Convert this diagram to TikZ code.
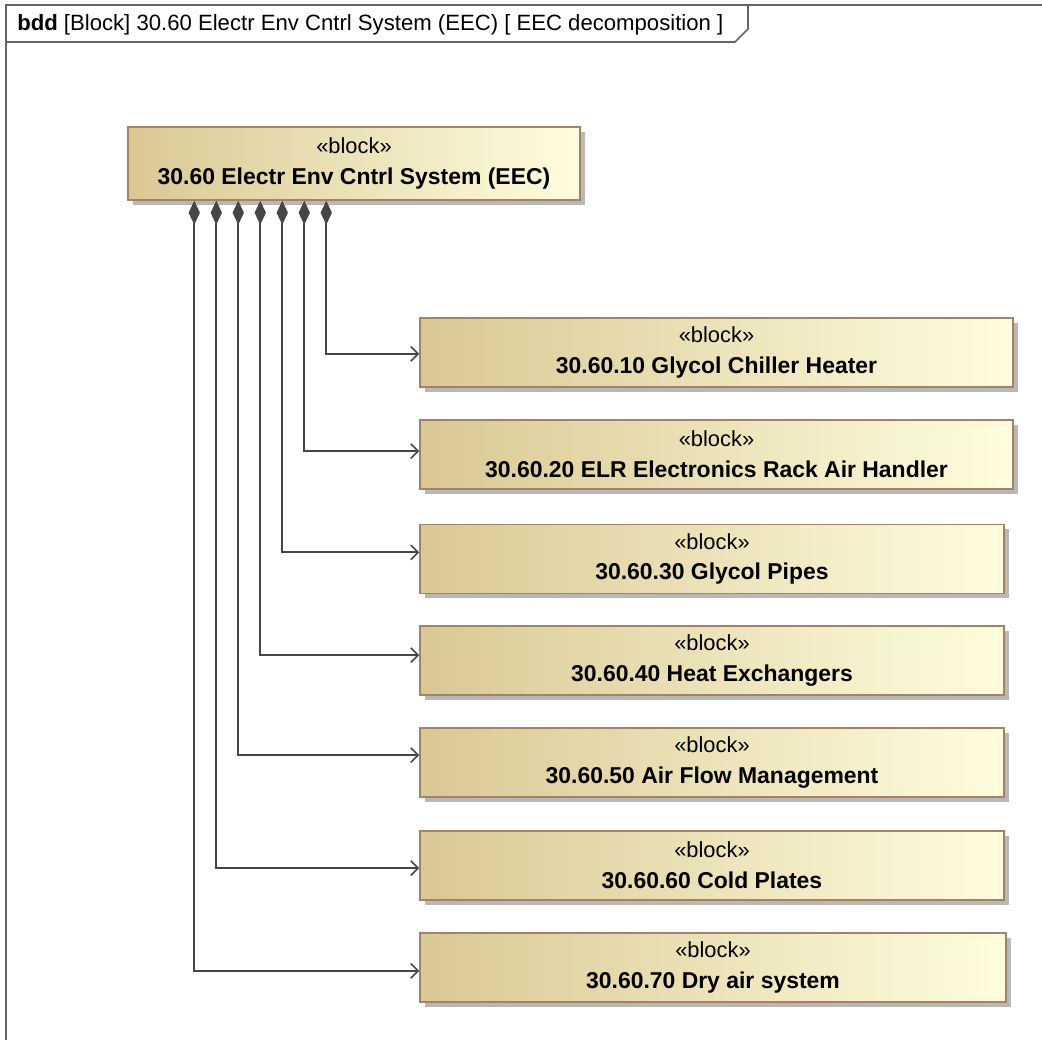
\documentclass[tikz,border=0pt]{standalone}
\usepackage{fontspec}
\setmainfont{Liberation Sans}
\usetikzlibrary{arrows.meta,shadows,calc,positioning}
\definecolor{blkleft}{RGB}{217,200,148}
\definecolor{blkright}{RGB}{255,253,222}
\definecolor{blkborder}{RGB}{165,130,100}
\definecolor{lnk}{RGB}{70,70,70}
\definecolor{frm}{RGB}{100,100,100}
\begin{document}
\begin{tikzpicture}[x=0.75pt,y=-0.75pt,
  blockbox/.style={draw=blkborder, line width=1.1pt, left color=blkleft, right color=blkright,
    drop shadow={shadow xshift=3.5pt, shadow yshift=-3.5pt, fill=black!28, opacity=1},
    align=center, inner sep=0pt, font=\fontsize{16.4}{23}\selectfont},
  bname/.style={font=\fontsize{17.2}{23}\selectfont\bfseries},
  comp/.style={draw=lnk, line width=1.4pt,
    {Diamond[length=18pt,width=8.5pt,fill=lnk]}-{Straight Barb[length=5.5pt,width=11pt,line width=1.2pt]}},
  frameline/.style={draw=frm, line width=1.2pt}]
\useasboundingbox (0,0) rectangle (1042,1040);
% frame
\draw[frameline] (6,1040) -- (6,5) -- (1042,5);
\draw[frameline] (6,42) -- (735,42) -- (748,29) -- (748,5);
\node[anchor=west, inner sep=0pt, font=\fontsize{16.6}{19}\selectfont] (hdr) at (17,24.5)
  {\textbf{bdd} [Block] 30.60 Electr Env Cntrl System (EEC) [ EEC decomposition ]};
% blocks
\node[blockbox, minimum width=339pt, minimum height=54.75pt] (main) at (354,163.5)
  {«block»\\{\fontsize{17.2}{23}\selectfont\bfseries 30.60 Electr Env Cntrl System (EEC)}};
\node[blockbox, minimum width=444.75pt, minimum height=51.75pt] (c1) at (716.5,352.5)
  {«block»\\{\fontsize{17.2}{23}\selectfont\bfseries 30.60.10 Glycol Chiller Heater}};
\node[blockbox, minimum width=444.75pt, minimum height=51.75pt] (c2) at (716.5,454.5)
  {«block»\\{\fontsize{17.2}{23}\selectfont\bfseries 30.60.20 ELR Electronics Rack Air Handler}};
\node[blockbox, minimum width=438pt, minimum height=52pt] (c3) at (712,559)
  {«block»\\{\fontsize{17.2}{23}\selectfont\bfseries 30.60.30 Glycol Pipes}};
\node[blockbox, minimum width=438pt, minimum height=52pt] (c4) at (712,660.5)
  {«block»\\{\fontsize{17.2}{23}\selectfont\bfseries 30.60.40 Heat Exchangers}};
\node[blockbox, minimum width=438pt, minimum height=52pt] (c5) at (712,762.5)
  {«block»\\{\fontsize{17.2}{23}\selectfont\bfseries 30.60.50 Air Flow Management}};
\node[blockbox, minimum width=438pt, minimum height=52pt] (c6) at (712,865.5)
  {«block»\\{\fontsize{17.2}{23}\selectfont\bfseries 30.60.60 Cold Plates}};
\node[blockbox, minimum width=439.5pt, minimum height=52pt] (c7) at (713,967.5)
  {«block»\\{\fontsize{17.2}{23}\selectfont\bfseries 30.60.70 Dry air system}};
% composition connectors
\coordinate (s1) at ($(main.south west)+(199,0)$);
\coordinate (s2) at ($(main.south west)+(177,0)$);
\coordinate (s3) at ($(main.south west)+(155,0)$);
\coordinate (s4) at ($(main.south west)+(133,0)$);
\coordinate (s5) at ($(main.south west)+(111,0)$);
\coordinate (s6) at ($(main.south west)+(89,0)$);
\coordinate (s7) at ($(main.south west)+(67,0)$);
\draw[comp] (s1) |- ([yshift=-1pt]c1.west);
\draw[comp] (s2) |- ([yshift=2.5pt]c2.west);
\draw[comp] (s3) |- ([yshift=5pt]c3.west);
\draw[comp] (s4) |- ([yshift=4pt]c4.west);
\draw[comp] (s5) |- ([yshift=5.5pt]c5.west);
\draw[comp] (s6) |- ([yshift=-2pt]c6.west);
\draw[comp] (s7) |- ([yshift=-2.5pt]c7.west);
\end{tikzpicture}
\end{document}
